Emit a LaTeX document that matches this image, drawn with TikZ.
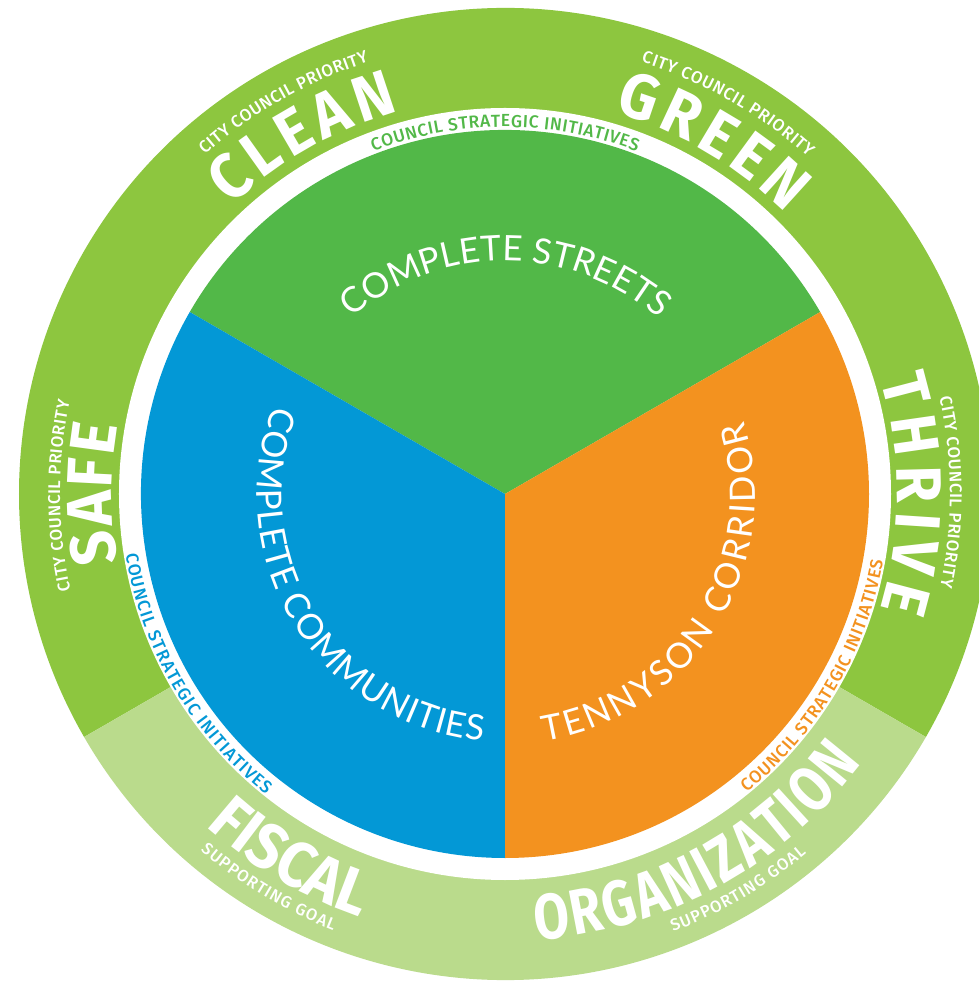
\documentclass[tikz,border=0pt]{standalone}
\usepackage{fontspec}
\usetikzlibrary{decorations.text}
\newfontfamily\bigf{Fira Sans}[UprightFont=* Bold, FakeStretch=0.93]
\newfontfamily\bigc{Fira Sans}[UprightFont=* Bold, FakeStretch=0.80]
\newfontfamily\smallf{Fira Sans}[UprightFont=* Medium]
\newfontfamily\lightf{Lato}
\definecolor{ringgreen}{HTML}{8DC63F}
\definecolor{ringlight}{HTML}{BADB8C}
\definecolor{secgreen}{HTML}{52B848}
\definecolor{secblue}{HTML}{0398D6}
\definecolor{secorange}{HTML}{F3921F}
\newcommand\BigW{\bigf\fontsize{64}{64}\selectfont\color{white}}
\newcommand\BigC{\bigc\fontsize{64}{64}\selectfont\color{white}}
\newcommand\SmallW{\smallf\fontsize{17}{17}\selectfont\color{white}}
\newcommand\GoalW{\smallf\fontsize{16.5}{16.5}\selectfont\color{white}}
\newcommand\CsiF[1]{\smallf\fontsize{17.5}{17.5}\selectfont\color{#1}}
\newcommand\InnerW{\lightf\fontsize{35}{35}\selectfont\color{white}}
% radius, start angle, end angle, format, text
\newcommand\arctext[5]{%
  \path[decorate,decoration={text along path,text align=fit to path,text={|#4|#5}}]
    (#2:#1) arc[start angle=#2,end angle=#3,radius=#1];}
\begin{document}
\begin{tikzpicture}
\useasboundingbox (-505pt,-493pt) rectangle (474pt,494pt);
\clip (-505pt,-493pt) rectangle (474pt,494pt);
\fill[white] (-505pt,-493pt) rectangle (474pt,494pt);
% outer ring
\fill[ringgreen] (0,0) -- (-30:486pt) arc[start angle=-30,end angle=210,radius=486pt] -- cycle;
\fill[ringlight] (0,0) -- (210:486pt) arc[start angle=210,end angle=330,radius=486pt] -- cycle;
\fill[white] (0,0) circle[radius=386pt];
% inner sectors
\fill[secgreen] (0,0) -- (30:364pt) arc[start angle=30,end angle=150,radius=364pt] -- cycle;
\fill[secblue] (0,0) -- (150:364pt) arc[start angle=150,end angle=270,radius=364pt] -- cycle;
\fill[secorange] (0,0) -- (270:364pt) arc[start angle=270,end angle=390,radius=364pt] -- cycle;
% priorities
\arctext{397pt}{133.5}{105.5}{\BigW}{CLEAN}
\arctext{453pt}{131.5}{107.5}{\SmallW}{CITY COUNCIL PRIORITY}
\arctext{397pt}{74}{45}{\BigW}{GREEN}
\arctext{453pt}{72.5}{48}{\SmallW}{CITY COUNCIL PRIORITY}
\arctext{393pt}{190}{170}{\BigW}{SAFE}
\arctext{445pt}{192.5}{168}{\SmallW}{CITY COUNCIL PRIORITY}
\arctext{392pt}{17}{-17}{\BigW}{THRIVE}
\arctext{445pt}{12.5}{-12}{\SmallW}{CITY COUNCIL PRIORITY}
% supporting goals
\arctext{447pt}{228}{251}{\BigW}{FISCAL}
\arctext{469pt}{229.5}{248.5}{\GoalW}{SUPPORTING GOAL}
\arctext{447pt}{274}{323}{\BigC}{ORGANIZATION}
\arctext{469pt}{291}{310}{\GoalW}{SUPPORTING GOAL}
% council strategic initiatives
\arctext{367pt}{111}{69}{\CsiF{secgreen}}{COUNCIL STRATEGIC INITIATIVES}
\arctext{384pt}{189}{231.5}{\CsiF{secblue}}{COUNCIL STRATEGIC INITIATIVES}
\arctext{384pt}{309}{350}{\CsiF{secorange}}{COUNCIL STRATEGIC INITIATIVES}
% initiatives
\arctext{233pt}{131}{49}{\InnerW}{COMPLETE STREETS}
\arctext{248pt}{159}{265}{\InnerW}{COMPLETE COMMUNITIES}
\arctext{250pt}{279}{377}{\InnerW}{TENNYSON CORRIDOR}
\end{tikzpicture}
\end{document}
